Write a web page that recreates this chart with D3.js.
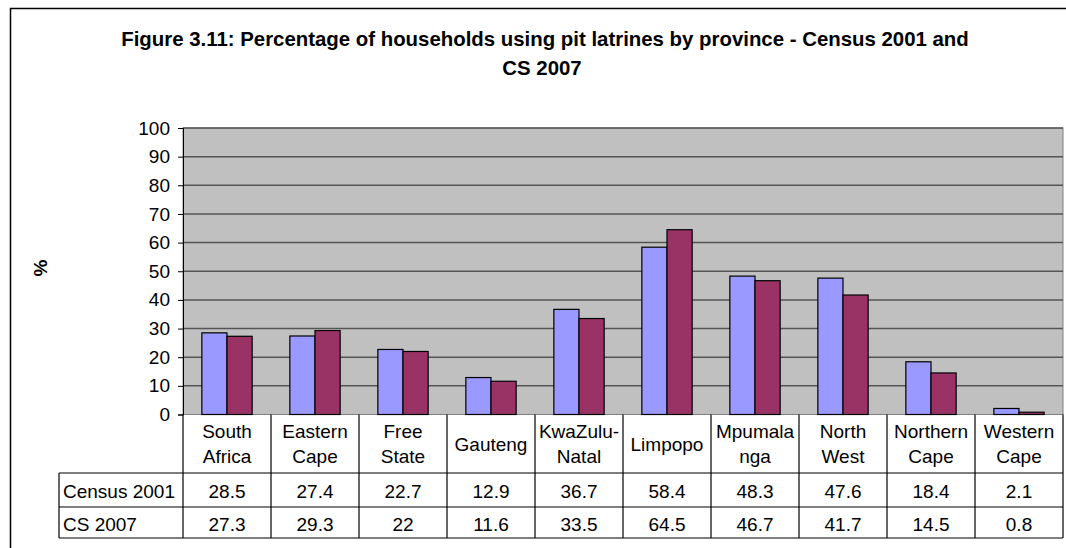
<!DOCTYPE html>
<html>
<head>
<meta charset="utf-8">
<script src="https://cdn.jsdelivr.net/npm/d3@7"></script>
<style>
  body { margin: 0; background: #fff; }
  svg { display: block; font-family: Arial, "Liberation Sans", sans-serif; }
</style>
</head>
<body>
<div id="chart"></div>
<script>
// data
var categories = ['South Africa', 'Eastern Cape', 'Free State', 'Gauteng', 'KwaZulu-Natal',
  'Limpopo', 'Mpumalanga', 'North West', 'Northern Cape', 'Western Cape'];
// how the category names are wrapped in the table header
var categoryLines = [['South', 'Africa'], ['Eastern', 'Cape'], ['Free', 'State'], ['Gauteng'],
  ['KwaZulu-', 'Natal'], ['Limpopo'], ['Mpumala', 'nga'], ['North', 'West'],
  ['Northern', 'Cape'], ['Western', 'Cape']];
var seriesNames = ['Census 2001', 'CS 2007'];
var census2001 = [28.5, 27.4, 22.7, 12.9, 36.7, 58.4, 48.3, 47.6, 18.4, 2.1];
var cs2007 = [27.3, 29.3, 22, 11.6, 33.5, 64.5, 46.7, 41.7, 14.5, 0.8];
var cs2007Labels = ['27.3', '29.3', '22', '11.6', '33.5', '64.5', '46.7', '41.7', '14.5', '0.8'];
var yTicks = [0, 10, 20, 30, 40, 50, 60, 70, 80, 90, 100];
var colors = ['#9999FF', '#993366'];

var W = 1066, H = 548;
var FS = '19px';
var svg = d3.select('#chart').append('svg').attr('width', W).attr('height', H);

// chart frame
svg.append('rect')
  .attr('x', 10.5).attr('y', 8.5).attr('width', 1100).attr('height', 600)
  .attr('fill', '#fff').attr('stroke', '#000').attr('stroke-width', 1.5);

// title
var title = svg.append('text')
  .attr('text-anchor', 'middle')
  .attr('font-size', '20.4px').attr('font-weight', 'bold');
title.append('tspan').attr('x', 545).attr('y', 46)
  .text('Figure 3.11: Percentage of households using pit latrines by province - Census 2001 and');
title.append('tspan').attr('x', 542).attr('y', 75).text('CS 2007');

var plot = { left: 183, right: 1063, top: 128, bottom: 414.5 };
var tableLeft = 59;

var x = d3.scaleBand().domain(categories).range([plot.left, plot.right]);
var xs = d3.scaleBand().domain(seriesNames).range([0, x.bandwidth()]).paddingOuter(0.75);
var y = d3.scaleLinear().domain([0, 100]).range([plot.bottom, plot.top]);

// plot area
svg.append('rect')
  .attr('x', plot.left).attr('y', plot.top)
  .attr('width', plot.right - plot.left).attr('height', plot.bottom - plot.top)
  .attr('fill', '#C0C0C0').attr('stroke', '#808080').attr('stroke-width', 1);

// gridlines
svg.append('g').selectAll('line')
  .data(yTicks.filter(function (d) { return d > 0; }))
  .enter().append('line')
  .attr('x1', plot.left).attr('x2', plot.right)
  .attr('y1', function (d) { return y(d); }).attr('y2', function (d) { return y(d); })
  .attr('stroke', '#555').attr('stroke-width', 1.5);

// y axis
var yAxis = svg.append('g')
  .attr('transform', 'translate(' + plot.left + ',0)')
  .call(d3.axisLeft(y).tickValues(yTicks).tickSize(5).tickPadding(8));
yAxis.select('.domain').attr('stroke', '#000');
yAxis.selectAll('.tick line').attr('stroke', '#000');
yAxis.selectAll('text').attr('font-size', FS).attr('fill', '#000')
  .attr('font-family', 'Arial, "Liberation Sans", sans-serif');

svg.append('text')
  .attr('transform', 'translate(47,268) rotate(-90)')
  .attr('text-anchor', 'middle')
  .attr('font-size', FS).attr('font-weight', 'bold')
  .text('%');

// bars
var values = [census2001, cs2007];
var groups = svg.append('g').selectAll('g')
  .data(categories)
  .enter().append('g')
  .attr('transform', function (d) { return 'translate(' + x(d) + ',0)'; });
groups.selectAll('rect')
  .data(function (d, i) {
    return seriesNames.map(function (s, k) { return { s: s, v: values[k][i], k: k }; });
  })
  .enter().append('rect')
  .attr('x', function (d) { return xs(d.s); })
  .attr('width', xs.bandwidth())
  .attr('y', function (d) { return y(d.v); })
  .attr('height', function (d) { return plot.bottom - y(d.v); })
  .attr('fill', function (d) { return colors[d.k]; })
  .attr('stroke', '#000').attr('stroke-width', 1.2);

// data table
var rowHeader = { top: plot.bottom, bottom: 473 };
var rowTops = [473, 507];
var rowBottom = 538;
var table = svg.append('g').attr('stroke', '#000').attr('stroke-width', 1.2);

// vertical lines
x.domain().forEach(function (c) {
  table.append('line').attr('x1', x(c)).attr('x2', x(c)).attr('y1', plot.bottom).attr('y2', rowBottom);
});
table.append('line').attr('x1', plot.right).attr('x2', plot.right).attr('y1', plot.bottom).attr('y2', rowBottom);
table.append('line').attr('x1', tableLeft).attr('x2', tableLeft).attr('y1', rowTops[0]).attr('y2', rowBottom);
// horizontal lines
table.append('line').attr('x1', tableLeft).attr('x2', plot.right).attr('y1', rowTops[0]).attr('y2', rowTops[0]);
table.append('line').attr('x1', tableLeft).attr('x2', plot.right).attr('y1', rowTops[1]).attr('y2', rowTops[1]);
table.append('line').attr('x1', tableLeft).attr('x2', plot.right).attr('y1', rowBottom).attr('y2', rowBottom);

// header category names
var headMid = (rowHeader.top + rowHeader.bottom) / 2;
categories.forEach(function (c, i) {
  var lines = categoryLines[i];
  var t = svg.append('text').attr('text-anchor', 'middle').attr('font-size', FS);
  lines.forEach(function (ln, j) {
    t.append('tspan')
      .attr('x', x(c) + x.bandwidth() / 2)
      .attr('y', headMid + 7 + (j - (lines.length - 1) / 2) * 25)
      .text(ln);
  });
});

// value rows
var labels = [census2001.map(String), cs2007Labels];
seriesNames.forEach(function (s, k) {
  var top = rowTops[k], bot = k === 0 ? rowTops[1] : rowBottom;
  var base = (top + bot) / 2 + 8;
  svg.append('text').attr('x', tableLeft + 4).attr('y', base)
    .attr('font-size', FS).text(s);
  categories.forEach(function (c, i) {
    svg.append('text')
      .attr('x', x(c) + x.bandwidth() / 2).attr('y', base)
      .attr('text-anchor', 'middle').attr('font-size', FS)
      .text(labels[k][i]);
  });
});
</script>
</body>
</html>
